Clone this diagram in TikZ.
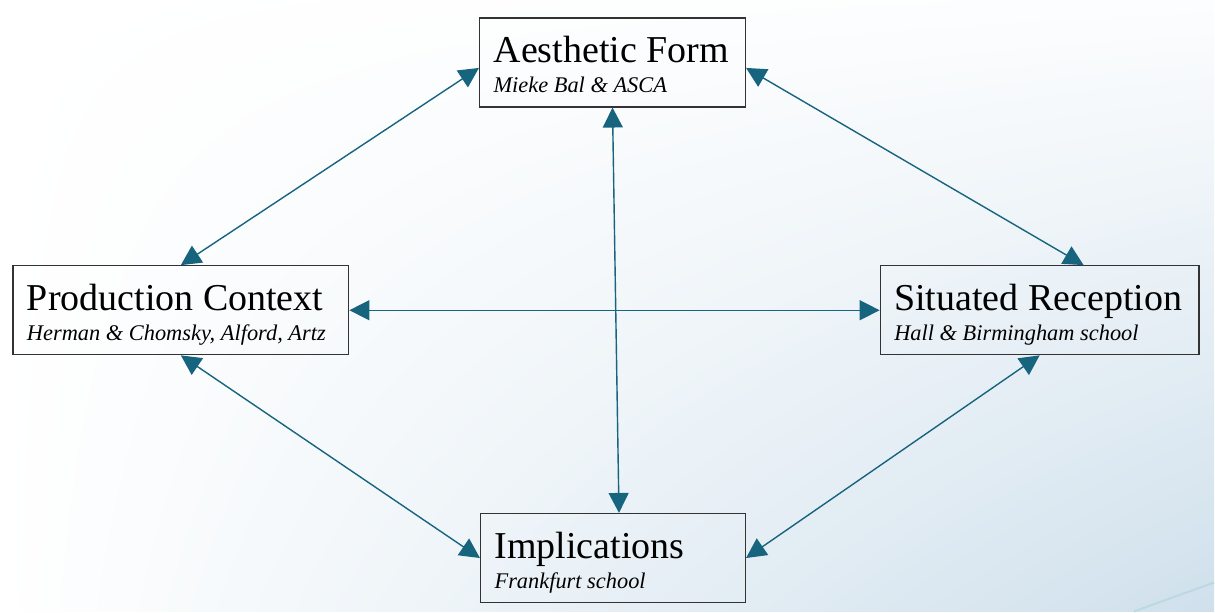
\documentclass[tikz,border=0pt]{standalone}
\usepackage{fontspec}
\setmainfont{Liberation Serif}
\usetikzlibrary{arrows.meta,shadings}

\definecolor{linkteal}{RGB}{22,100,126}
\definecolor{paleblue}{RGB}{207,224,236}
\definecolor{swooshblue}{RGB}{188,216,229}

% title line and italic line of a box
\newcommand{\boxtext}[2]{\spaceskip=0pt\xspaceskip=0pt
  \mbox{\rule{0pt}{18pt}#1}\\
  {\fontsize{11.2}{15}\selectfont\itshape #2\rule[-3pt]{0pt}{3pt}}}

\begin{document}
\begin{tikzpicture}[x=0.5pt,
					y=-0.5pt,
					%>=stealth',
					link/.style={{Triangle[length=10pt,width=10pt]}-{Triangle[length=10pt,width=10pt]},
						draw=linkteal,line width=0.7pt},
					theory box/.style={rectangle,draw=black!80,line width=0.65pt,
						align=left,inner xsep=7pt,minimum height=44.5pt,
						font=\fontsize{19}{15}\selectfont}]

  % background
  \shade[upper left=white,upper right=white!94!paleblue,
         lower left=white,lower right=paleblue] (0,0) rectangle (1215,612);
  \draw[swooshblue,line width=1pt] (1135,612) .. controls (1165,601) .. (1215,583);

  \node[theory box,text width=119pt] (form) at (613,62.5) {\boxtext{Aesthetic Form}{Mieke Bal \& ASCA}};
  \node[theory box,text width=154pt] (prod) at (181,310.5) {\boxtext{Production Context}{Herman \& Chomsky, Alford, Artz}};
  \node[theory box,text width=145.5pt] (situ) at (1040.5,310.5) {\boxtext{Situated Reception}{Hall \& Birmingham school}};
  \node[theory box,text width=118.5pt] (impl) at (613.5,558.5) {\boxtext{Implications}{Frankfurt school}};

  \draw[link] ([yshift=-2.75pt]form.west) -- (prod.north);
  \draw[link] ([yshift=-2.75pt]form.east) -- ([xshift=22pt]situ.north);
  \draw[link] (form.south) -- ([xshift=3pt]impl.north);
  \draw[link] (prod.east) -- (situ.west);
  \draw[link] (prod.south) -- (impl.west);
  \draw[link] (situ.south) -- (impl.east);
\end{tikzpicture}
\end{document}
